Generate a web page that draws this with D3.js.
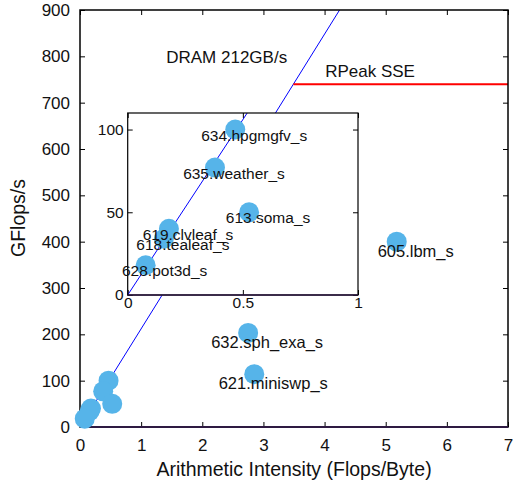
<!DOCTYPE html>
<html>
<head>
<meta charset="utf-8">
<script src="https://cdn.jsdelivr.net/npm/d3@7"></script>
<style>
  body { margin: 0; background: #fff; }
  svg text { font-family: "Liberation Sans", Arial, Helvetica, sans-serif; fill: #111; }
</style>
</head>
<body>
<svg id="chart" width="516" height="483"></svg>
<script>
// benchmark data
var benchmarks = ['605.lbm_s', '632.sph_exa_s', '621.miniswp_s', '634.hpgmgfv_s', '635.weather_s',
                  '613.soma_s', '619.clvleaf_s', '618.tealeaf_s', '628.pot3d_s'];
var intensity = [5.18, 2.75, 2.85, 0.467, 0.379, 0.527, 0.179, 0.157, 0.078];
var gflops = [400, 203, 114, 100, 77, 50, 40, 34, 18];
var mainLabelled = ['605.lbm_s', '632.sph_exa_s', '621.miniswp_s'];

var dramBW = 212;   // GB/s
var peak = 740;     // GFlops/s, RPeak SSE

var xTicks = [0, 1, 2, 3, 4, 5, 6, 7];
var yTicks = [0, 100, 200, 300, 400, 500, 600, 700, 800, 900];
var insetXTicks = [0, 0.5, 1];
var insetYTicks = [0, 50, 100];

var points = benchmarks.map(function(name, i) {
  return { name: name, x: intensity[i], y: gflops[i] };
});

var svg = d3.select('#chart');
var blue = '#56b4e9';

var x = d3.scaleLinear().domain([0, 7]).range([80, 508]);
var y = d3.scaleLinear().domain([0, 900]).range([427, 10]);

// main plot
var main = svg.append('g');

main.append('clipPath').attr('id', 'mainClip')
  .append('rect').attr('x', 80).attr('y', 10).attr('width', 428).attr('height', 417);

function axes(g, sx, sy, xt, yt, fs, padX, padY, fmt) {
  var x0 = sx.range()[0], x1 = sx.range()[1], y0 = sy.range()[0], y1 = sy.range()[1];
  g.append('g').attr('transform', 'translate(0,' + y0 + ')')
    .call(d3.axisBottom(sx).tickValues(xt).tickSize(-5).tickPadding(padX).tickFormat(fmt))
    .call(function(a) { a.select('.domain').remove(); a.selectAll('text').style('font-size', fs + 'px').attr('fill', '#111'); });
  g.append('g').attr('transform', 'translate(0,' + y1 + ')')
    .call(d3.axisTop(sx).tickValues(xt).tickSize(-5).tickFormat(''))
    .call(function(a) { a.select('.domain').remove(); });
  g.append('g').attr('transform', 'translate(' + x0 + ',0)')
    .call(d3.axisLeft(sy).tickValues(yt).tickSize(-5).tickPadding(padY))
    .call(function(a) { a.select('.domain').remove(); a.selectAll('text').style('font-size', fs + 'px').attr('fill', '#111'); });
  g.append('g').attr('transform', 'translate(' + x1 + ',0)')
    .call(d3.axisRight(sy).tickValues(yt).tickSize(-5).tickFormat(''))
    .call(function(a) { a.select('.domain').remove(); });
  g.selectAll('.tick line').attr('stroke', '#000').attr('stroke-width', 1);
}

axes(main, x, y, xTicks, yTicks, 17, 12, 10, d3.format('d'));

// roofline
main.append('line')
  .attr('clip-path', 'url(#mainClip)')
  .attr('x1', x(0)).attr('y1', y(0))
  .attr('x2', x(900 / dramBW)).attr('y2', y(900))
  .attr('stroke', '#0000ff').attr('stroke-width', 1);
main.append('line')
  .attr('x1', x(peak / dramBW)).attr('y1', y(peak))
  .attr('x2', x(7)).attr('y2', y(peak))
  .attr('stroke', '#ff0000').attr('stroke-width', 2);

main.append('text').attr('x', x(1.41)).attr('y', y(785))
  .style('font-size', '17px').text('DRAM ' + dramBW + 'GB/s');
main.append('text').attr('x', x(4.01)).attr('y', y(755))
  .style('font-size', '17px').text('RPeak SSE');

// frame
main.append('rect').attr('x', 80).attr('y', 10).attr('width', 428).attr('height', 417)
  .attr('fill', 'none').attr('stroke', '#000').attr('stroke-width', 1.5);
main.append('line').attr('x1', 80).attr('x2', 508).attr('y1', 427).attr('y2', 427)
  .attr('stroke', '#2e1a42').attr('stroke-width', 2);

main.selectAll('.pt').data(points).enter()
  .append('circle')
  .attr('cx', function(d) { return x(d.x); })
  .attr('cy', function(d) { return y(d.y); })
  .attr('r', 10)
  .style('fill', blue);

main.selectAll('.lbl').data(points.filter(function(d) { return mainLabelled.indexOf(d.name) >= 0; }))
  .enter().append('text')
  .attr('x', function(d) { return x(d.x) + 19; })
  .attr('y', function(d) { return y(d.y) + 15; })
  .style('text-anchor', 'middle')
  .style('font-size', '16.5px')
  .text(function(d) { return d.name; });

// axis titles
svg.append('text').attr('x', 294).attr('y', 476)
  .style('text-anchor', 'middle').style('font-size', '19.5px')
  .text('Arithmetic Intensity (Flops/Byte)');
svg.append('text').attr('transform', 'translate(25,218) rotate(-90)')
  .style('text-anchor', 'middle').style('font-size', '19.5px')
  .text('GFlops/s');

// inset zoom
var ix = d3.scaleLinear().domain([0, 1]).range([127.7, 358]);
var iy = d3.scaleLinear().domain([0, 110]).range([295, 113]);
var inset = svg.append('g');

inset.append('clipPath').attr('id', 'insetClip')
  .append('rect').attr('x', 127.7).attr('y', 113).attr('width', 230.3).attr('height', 182);
inset.append('rect').attr('x', 127.7).attr('y', 113).attr('width', 230.3).attr('height', 182)
  .attr('fill', '#fff');

axes(inset, ix, iy, insetXTicks, insetYTicks, 15.5, 2, 4, function(d) { return d; });

inset.append('line')
  .attr('clip-path', 'url(#insetClip)')
  .attr('x1', ix(0)).attr('y1', iy(0))
  .attr('x2', ix(110 / dramBW)).attr('y2', iy(110))
  .attr('stroke', '#0000ff').attr('stroke-width', 1);

inset.append('rect').attr('x', 127.7).attr('y', 113).attr('width', 230.3).attr('height', 182)
  .attr('fill', 'none').attr('stroke', '#000').attr('stroke-width', 1.2);
inset.append('line').attr('x1', 127.7).attr('x2', 358).attr('y1', 295).attr('y2', 295)
  .attr('stroke', '#2e1a42').attr('stroke-width', 1.5);

var insetPts = points.filter(function(d) { return d.x <= 1 && d.y <= 110; });

inset.selectAll('.pt').data(insetPts).enter()
  .append('circle')
  .attr('cx', function(d) { return ix(d.x); })
  .attr('cy', function(d) { return iy(d.y); })
  .attr('r', 10)
  .style('fill', blue);

inset.selectAll('.lbl').data(insetPts).enter()
  .append('text')
  .attr('x', function(d) { return ix(d.x) + 19; })
  .attr('y', function(d) { return iy(d.y) + 11; })
  .style('text-anchor', 'middle')
  .style('font-size', '15.5px')
  .text(function(d) { return d.name; });
</script>
</body>
</html>
